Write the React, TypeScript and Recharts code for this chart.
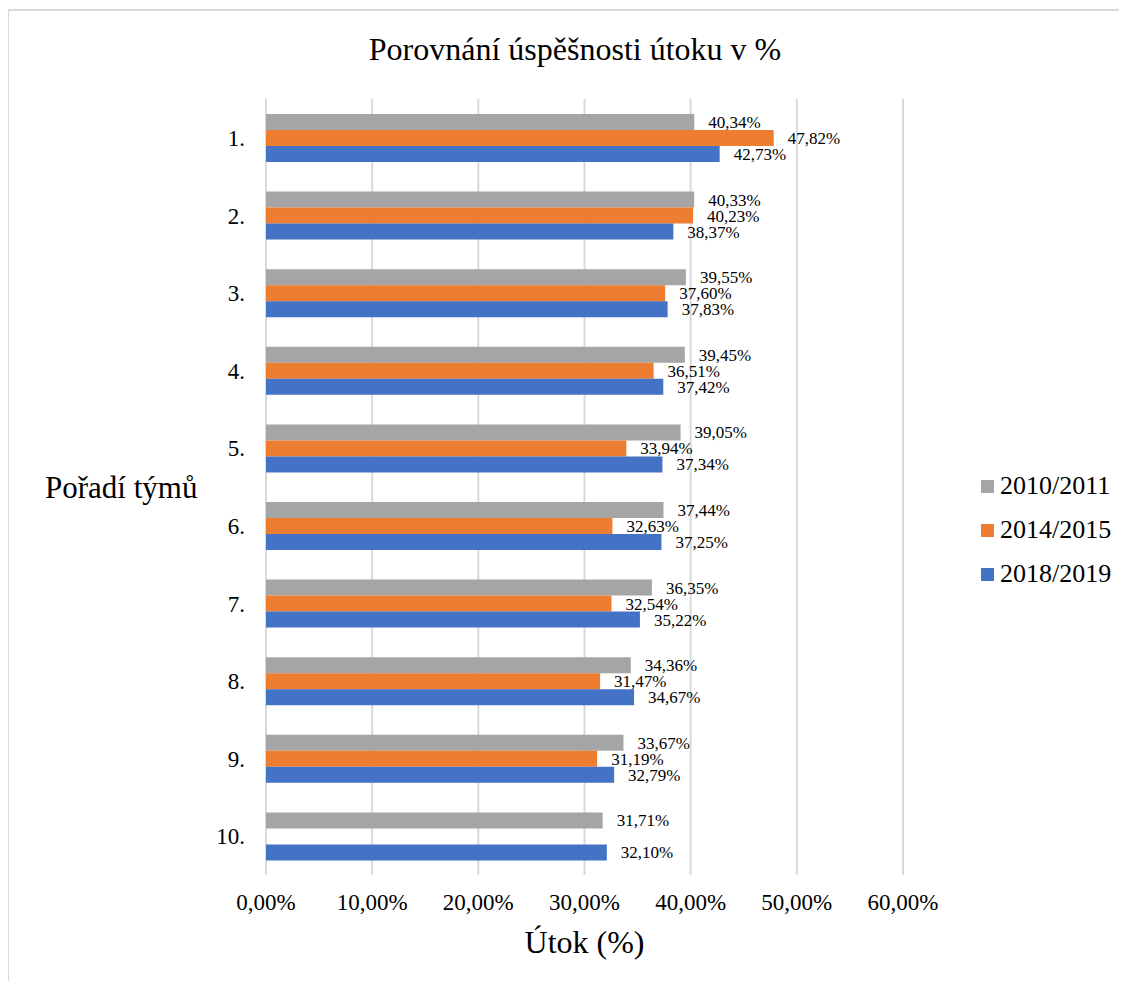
import React from "react";
import { BarChart, Bar, XAxis, YAxis, CartesianGrid, LabelList } from "recharts";

// Pořadí týmů (categories)
const teams = ["1.", "2.", "3.", "4.", "5.", "6.", "7.", "8.", "9.", "10."];

// úspěšnost útoku v % per season
const season2010 = [40.34, 40.33, 39.55, 39.45, 39.05, 37.44, 36.35, 34.36, 33.67, 31.71];
const season2014 = [47.82, 40.23, 37.6, 36.51, 33.94, 32.63, 32.54, 31.47, 31.19, null];
const season2018 = [42.73, 38.37, 37.83, 37.42, 37.34, 37.25, 35.22, 34.67, 32.79, 32.1];

const xTicks = [0, 10, 20, 30, 40, 50, 60];

const series = [
  { key: "s2010", name: "2010/2011", color: "#a5a5a5", values: season2010 },
  { key: "s2014", name: "2014/2015", color: "#ed7d31", values: season2014 },
  { key: "s2018", name: "2018/2019", color: "#4472c4", values: season2018 },
];

const data = teams.map((team, i) => {
  const row: any = { team };
  series.forEach((s) => {
    row[s.key] = s.values[i];
  });
  return row;
});

const FONT = "Liberation Serif";

const pct = (v: any) => {
  if (v === null || v === undefined) return "";
  return `${Number(v).toFixed(2).replace(".", ",")}%`;
};

export default function App() {
  return (
    <div style={{ position: "relative", width: 1122, height: 979, fontFamily: FONT }}>
      <div
        style={{
          position: "absolute",
          left: -1,
          top: 1,
          width: 1110,
          height: 970,
          borderTop: "2px solid #d9d9d9",
          borderLeft: "2px solid #d9d9d9",
        }}
      />
      <div
        style={{
          position: "absolute",
          left: 0,
          top: 25,
          width: 1134,
          textAlign: "center",
          fontSize: 32,
          lineHeight: 1,
          color: "#000",
        }}
      >
        Porovnání úspěšnosti útoku v %
      </div>

      <div style={{ position: "absolute", left: 0, top: 0 }}>
        <BarChart
          width={1122}
          height={979}
          data={data}
          layout="vertical"
          margin={{ top: 91, right: 227, bottom: 22, left: 0 }}
          barCategoryGap={15}
          barGap={0}
          style={{ fontFamily: FONT }}
        >
          <CartesianGrid horizontal={false} stroke="#d9d9d9" strokeWidth={2} />
          <XAxis
            type="number"
            domain={[0, 60]}
            ticks={xTicks}
            tickFormatter={pct}
            axisLine={false}
            tickLine={false}
            tickSize={0}
            tickMargin={19}
            height={90}
            tick={{ fill: "#000", fontSize: 23, fontFamily: FONT }}
            label={{
              value: "Útok (%)",
              position: "insideBottom",
              offset: 12,
              fill: "#000",
              fontSize: 32,
              fontFamily: FONT,
            }}
          />
          <YAxis
            type="category"
            dataKey="team"
            width={258}
            axisLine={false}
            tickLine={false}
            tickSize={0}
            tickMargin={21}
            tick={{ fill: "#000", fontSize: 23, fontFamily: FONT }}
            label={{
              value: "Pořadí týmů",
              position: "insideLeft",
              offset: 37,
              angle: 0,
              fill: "#000",
              fontSize: 31,
              fontFamily: FONT,
            }}
          />
          {series.map((s) => (
            <Bar key={s.key} dataKey={s.key} name={s.name} fill={s.color} isAnimationActive={false}>
              <LabelList
                dataKey={s.key}
                position="right"
                offset={14}
                formatter={pct}
                fill="#000"
                fontSize={17}
                fontFamily={FONT}
              />
            </Bar>
          ))}
        </BarChart>
      </div>

      <div style={{ position: "absolute", left: 973, top: 456 }}>
        {series.map((s) => (
          <div key={s.key} style={{ display: "flex", alignItems: "center", height: 44 }}>
            <div style={{ width: 13, height: 13, background: s.color, marginRight: 6 }} />
            <span style={{ fontSize: 26, color: "#000", lineHeight: 1 }}>{s.name}</span>
          </div>
        ))}
      </div>
    </div>
  );
}
